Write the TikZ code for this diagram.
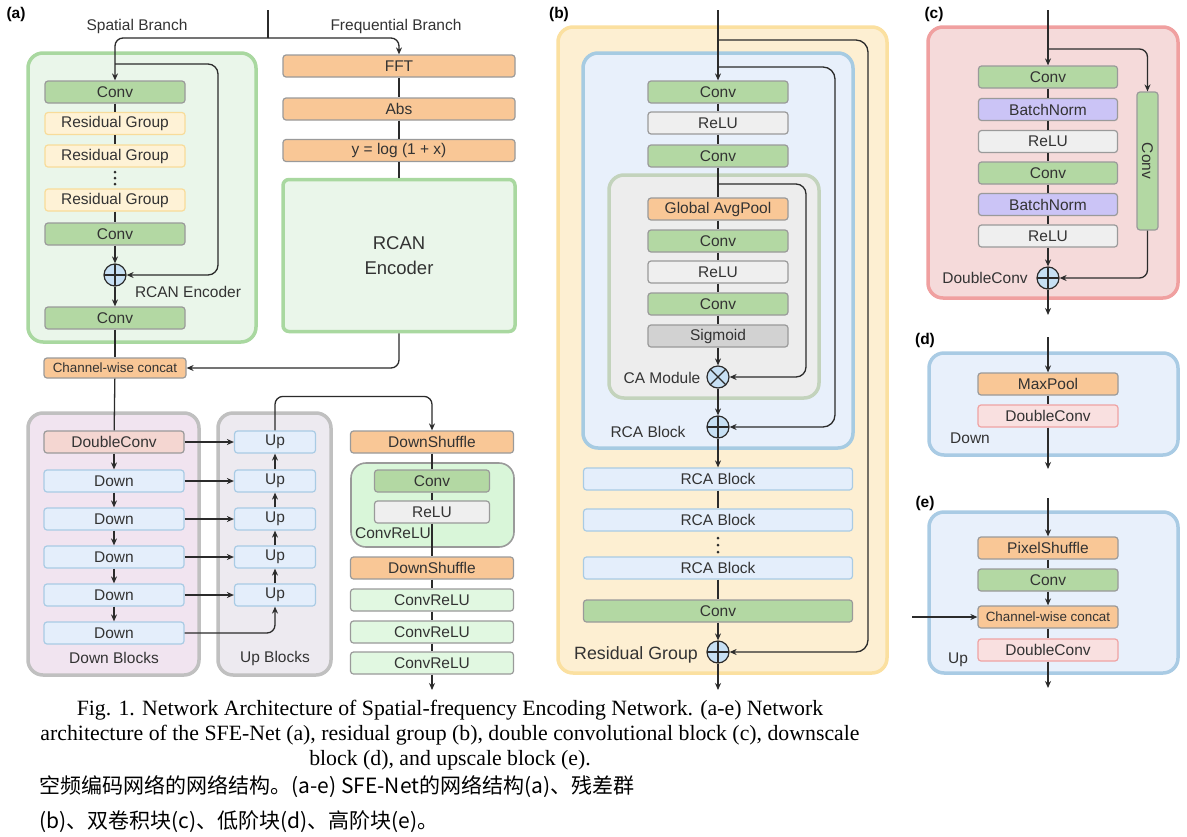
\documentclass[tikz,border=0pt]{standalone}
\usepackage{fontspec}
\setmainfont{Liberation Sans}
\newfontfamily\capfont{Liberation Serif}
\newfontfamily\cjk{Noto Sans CJK SC}
\usetikzlibrary{arrows.meta,calc}

\definecolor{txt}{HTML}{333333}
\definecolor{linec}{HTML}{2B2B2B}
\definecolor{boxgray}{HTML}{9A9A9A}
\definecolor{convgreen}{HTML}{B3D8A3}
\definecolor{rgfill}{HTML}{FEF2D6}
\definecolor{rgedge}{HTML}{F8DC9A}
\definecolor{encfill}{HTML}{EAF6EA}
\definecolor{encedge}{HTML}{A9D8A0}
\definecolor{poolorange}{HTML}{F9C796}
\definecolor{relugray}{HTML}{EFEFEF}
\definecolor{siggray}{HTML}{D2D2D2}
\definecolor{bnpurple}{HTML}{CBC4F6}
\definecolor{lblue}{HTML}{E4EEFB}
\definecolor{lblueedge}{HTML}{A9CBE4}
\definecolor{dcpink}{HTML}{F4D6D1}
\definecolor{downfill}{HTML}{F1E4F0}
\definecolor{upfill}{HTML}{EDEAF0}
\definecolor{grpedge}{HTML}{C0C0C0}
\definecolor{crgroup}{HTML}{D9F6D9}
\definecolor{crfill}{HTML}{E1F8E1}
\definecolor{resfill}{HTML}{FDEFD2}
\definecolor{resedge}{HTML}{FBE0A0}
\definecolor{rcafill}{HTML}{E8F0FB}
\definecolor{rcaedge}{HTML}{A6CBE2}
\definecolor{cafill}{HTML}{EDEDED}
\definecolor{caedge}{HTML}{C3D3BC}
\definecolor{dcfill}{HTML}{F5DADA}
\definecolor{dcedge}{HTML}{F0A0A0}
\definecolor{pinkfill}{HTML}{F9E0E0}
\definecolor{pinkedge}{HTML}{EFA3A3}
\definecolor{sumblue}{HTML}{C7E0F4}

\newcommand\lbl{\fontsize{15.5}{18}\selectfont}

\tikzset{
  blk/.style={draw=boxgray, rounded corners=3pt, line width=1.2pt, minimum height=22pt,
    minimum width=140pt, inner sep=0pt, text=txt, font=\lbl},
  conv/.style={blk, fill=convgreen},
  rgbox/.style={blk, fill=rgfill, draw=rgedge},
  pool/.style={blk, fill=poolorange},
  relu/.style={blk, fill=relugray},
  bnorm/.style={blk, fill=bnpurple},
  bluebox/.style={blk, fill=lblue, draw=lblueedge},
  pinkbox/.style={blk, fill=pinkfill, draw=pinkedge},
  crbox/.style={blk, fill=crfill, minimum width=163pt},
  wrap/.style={line width=3.5pt, rounded corners=15pt},
  sumbase/.style={circle, draw=linec, fill=sumblue, line width=1.2pt, minimum size=22pt, inner sep=0pt},
  plusop/.style={sumbase, path picture={
    \draw[linec, line width=1.2pt] (path picture bounding box.north) -- (path picture bounding box.south)
      (path picture bounding box.west) -- (path picture bounding box.east);}},
  timesop/.style={sumbase, path picture={
    \draw[linec, line width=1.2pt] (path picture bounding box.center) ++(45:12pt) -- ++(225:24pt)
      (path picture bounding box.center) ++(135:12pt) -- ++(315:24pt);}},
  flow/.style={draw=linec, line width=1.3pt},
  arr/.style={flow, -{Stealth[length=7pt,width=6pt]}},
  tag/.style={font=\lbl\bfseries, text=black},
}

\begin{document}
\begin{tikzpicture}[x=1pt, y=-1pt, text=txt, font=\lbl]
\fill[white] (0,0) rectangle (1187,836);
\useasboundingbox (0,0) rectangle (1187,836);

% (a) SFE-Net
\node[tag] (lab_a) at (16,14) {(a)};
\node (t_sp) at (137,26) {Spatial Branch};
\node (t_fr) at (396,26) {Frequential Branch};
\draw[wrap, draw=encedge, fill=encfill] (28,53) rectangle (256,342);

\node[conv] (sconv1) at (115,92) {Conv};
\node[rgbox] (srg1) at (115,123.5) {Residual Group};
\node[rgbox] (srg2) at (115,156) {Residual Group};
\foreach \d in {0,6,12} \fill[linec] (115,172+\d) circle (1.5pt);
\node[rgbox] (srg3) at (115,200) {Residual Group};
\node[conv] (sconv2) at (115,234) {Conv};
\node[plusop] (plus_a) at (115,275) {};
\node (t_enc) at (188,292) {RCAN Encoder};
\node[conv] (sconv3) at (115,318) {Conv};
\node[pool, minimum width=142pt, minimum height=20pt, font=\fontsize{13.4}{16}\selectfont] (concat_a) at (115,368) {Channel-wise concat};

\node[pool, minimum width=232pt] (fft) at (399,66) {FFT};
\node[pool, minimum width=232pt] (abs) at (399,109) {Abs};
\node[pool, minimum width=232pt] (logx) at (399,150.5) {y = log (1 + x)};
\node[draw=encedge, fill=encfill, line width=3.5pt, rounded corners=6pt, minimum width=232pt,
  minimum height=152pt, align=center, font=\fontsize{18.5}{25}\selectfont] (rcan) at (399,255.5) {RCAN\\Encoder};

\coordinate (in_a) at (268,10);
\coordinate (split_a) at (268,38);
\coordinate (sk_a) at (115,64);
\draw[flow] (in_a) -- (split_a);
\draw[arr, rounded corners=8pt] (split_a) -| (sconv1.north);
\draw[arr, rounded corners=8pt] (split_a) -| (fft.north);
\draw[arr, rounded corners=10pt] (sk_a) -- (218,64) -- (218,275) -- (plus_a.east);
\draw[flow] (sconv1) -- (srg1) -- (srg2);
\draw[flow] (srg3) -- (sconv2);
\draw[arr] (sconv2) -- (plus_a);
\draw[arr] (plus_a) -- (sconv3);
\draw[flow] (sconv3) -- (concat_a);
\draw[flow] (fft) -- (abs) -- (logx) -- (rcan);
\draw[arr, rounded corners=8pt] (rcan.south) |- (concat_a.east);

% down / up blocks
\draw[wrap, draw=grpedge, fill=downfill] (28,413) rectangle (199,675);
\draw[wrap, draw=grpedge, fill=upfill] (218,413) rectangle (331,675);
\node[blk, fill=dcpink] (dblc) at (114,442) {DoubleConv};
\foreach \i/\y in {1/481,2/519,3/557,4/595,5/633}
  \node[bluebox] (down\i) at (114,\y) {Down};
\foreach \i/\y in {1/442,2/481,3/519,4/557,5/595}
  \node[bluebox, minimum width=81pt] (up\i) at (275,\y) {Up};
\node (t_down) at (114,658) {Down Blocks};
\node (t_up) at (275,658) {Up Blocks};

\draw[flow] (concat_a) -- (dblc);
\draw[arr] (dblc) -- (down1);
\foreach \i/\j in {1/2,2/3,3/4,4/5} \draw[arr] (down\i) -- (down\j);
\draw[arr] (dblc.east) -- (up1.west);
\foreach \i/\j in {1/2,2/3,3/4,4/5} \draw[arr] (down\i.east) -- (up\j.west);
\foreach \i/\j in {5/4,4/3,3/2,2/1} \draw[arr] (up\i) -- (up\j);
\draw[arr, rounded corners=8pt] (down5.east) -| (up5.south);

% downshuffle column
\node[pool, minimum width=163pt] (ds1) at (432,442) {DownShuffle};
\draw[line width=1.6pt, draw=boxgray, fill=crgroup, rounded corners=15pt] (351,463) rectangle (514,547);
\node[conv, minimum width=115pt] (crconv) at (432,481) {Conv};
\node[relu, minimum width=115pt] (crrelu) at (432,512) {ReLU};
\node (t_cr) at (393,533) {ConvReLU};
\node[pool, minimum width=163pt] (ds2) at (432,568) {DownShuffle};
\node[crbox] (cr1) at (432,600) {ConvReLU};
\node[crbox] (cr2) at (432,632) {ConvReLU};
\node[crbox] (cr3) at (432,663) {ConvReLU};
\coordinate (out_a) at (432,690);

\draw[arr, rounded corners=8pt] (up1.north) -- ++(0,-34) -| (ds1.north);
\draw[flow] (ds1) -- (crconv) -- (crrelu) -- (ds2) -- (cr1) -- (cr2) -- (cr3);
\draw[arr] (cr3) -- (out_a);

% (b) residual group
\node[tag] (lab_b) at (559,14) {(b)};
\draw[wrap, draw=resedge, fill=resfill] (558,27) rectangle (887,673);
\draw[wrap, draw=rcaedge, fill=rcafill] (583,53) rectangle (853,448);
\draw[wrap, draw=caedge, fill=cafill] (609,175) rectangle (819,398);

\node[conv] (bconv1) at (718,92) {Conv};
\node[relu] (brelu1) at (718,123) {ReLU};
\node[conv] (bconv2) at (718,156) {Conv};
\node[pool] (gap) at (718,209) {Global AvgPool};
\node[conv] (caconv1) at (718,241) {Conv};
\node[relu] (carelu) at (718,272) {ReLU};
\node[conv] (caconv2) at (718,304) {Conv};
\node[blk, fill=siggray] (sig) at (718,336) {Sigmoid};
\node[timesop] (times_b) at (718,377) {};
\node (t_ca) at (662,378) {CA Module};
\node[plusop] (plus_b1) at (718,427) {};
\node (t_rcab) at (648,432) {RCA Block};
\node[bluebox, minimum width=269pt] (rca1) at (718,479) {RCA Block};
\node[bluebox, minimum width=269pt] (rca2) at (718,520) {RCA Block};
\foreach \d in {0,7,14} \fill[linec] (718,538+\d) circle (1.5pt);
\node[bluebox, minimum width=269pt] (rca3) at (718,568) {RCA Block};
\node[conv, minimum width=269pt] (bconv3) at (718,611) {Conv};
\node[plusop] (plus_b2) at (718,652) {};
\node[font=\fontsize{17.8}{20}\selectfont] (t_res) at (636,655) {Residual Group};

\coordinate (in_b) at (718,10);
\coordinate (sk_b1) at (718,40);
\coordinate (sk_b2) at (718,67);
\coordinate (sk_b3) at (718,184);
\coordinate (out_b) at (718,690);
\draw[arr] (in_b) -- (bconv1);
\draw[arr, rounded corners=12pt] (sk_b1) -- (868,40) -- (868,652) -- (plus_b2.east);
\draw[arr, rounded corners=12pt] (sk_b2) -- (835,67) -- (835,427) -- (plus_b1.east);
\draw[arr, rounded corners=10pt] (sk_b3) -- (806,184) -- (806,377) -- (times_b.east);
\draw[flow] (bconv1) -- (brelu1) -- (bconv2) -- (gap) -- (caconv1) -- (carelu) -- (caconv2) -- (sig);
\draw[arr] (sig) -- (times_b);
\draw[arr] (times_b) -- (plus_b1);
\draw[arr] (plus_b1) -- (rca1);
\draw[flow] (rca1) -- (rca2);
\draw[flow] (rca3) -- (bconv3);
\draw[arr] (bconv3) -- (plus_b2);
\draw[arr] (plus_b2) -- (out_b);

% (c) double conv
\node[tag] (lab_c) at (934,14) {(c)};
\draw[wrap, draw=dcedge, fill=dcfill] (928,27) rectangle (1178,298);
\node[conv, minimum width=139pt] (cconv1) at (1048,77) {Conv};
\node[bnorm, minimum width=139pt] (cbn1) at (1048,109.5) {BatchNorm};
\node[relu, minimum width=139pt] (crelu1) at (1048,141.5) {ReLU};
\node[conv, minimum width=139pt] (cconv2) at (1048,173) {Conv};
\node[bnorm, minimum width=139pt] (cbn2) at (1048,204.5) {BatchNorm};
\node[relu, minimum width=139pt] (crelu2) at (1048,236) {ReLU};
\node[conv, rotate=-90, minimum width=138pt, minimum height=21pt] (csconv) at (1147.5,161) {Conv};
\node[plusop] (plus_c) at (1048,278) {};
\node (t_dc) at (985,278) {DoubleConv};

\coordinate (in_c) at (1048,10);
\coordinate (br_c) at (1048,49);
\coordinate (out_c) at (1048,315);
\draw[arr] (in_c) -- (cconv1);
\draw[arr, rounded corners=8pt] (br_c) -| (csconv.west);
\draw[arr, rounded corners=8pt] (csconv.east) |- (plus_c.east);
\draw[flow] (cconv1) -- (cbn1) -- (crelu1) -- (cconv2) -- (cbn2) -- (crelu2);
\draw[arr] (crelu2) -- (plus_c);
\draw[arr] (plus_c) -- (out_c);

% (d) down
\node[tag] (lab_d) at (925,340) {(d)};
\draw[wrap, draw=lblueedge, fill=rcafill] (929,353) rectangle (1178,455);
\node[pool] (maxp) at (1048,384) {MaxPool};
\node[pinkbox] (ddc) at (1048,416) {DoubleConv};
\node (t_dn) at (970,438) {Down};
\coordinate (in_d) at (1048,337);
\coordinate (out_d) at (1048,469);
\draw[arr] (in_d) -- (maxp);
\draw[flow] (maxp) -- (ddc);
\draw[arr] (ddc) -- (out_d);

% (e) up
\node[tag] (lab_e) at (925,503) {(e)};
\draw[wrap, draw=lblueedge, fill=rcafill] (929,512) rectangle (1178,673);
\node[pool] (pix) at (1048,548) {PixelShuffle};
\node[conv] (econv) at (1048,580) {Conv};
\node[pool, font=\fontsize{13.4}{16}\selectfont] (econcat) at (1048,617) {Channel-wise concat};
\node[pinkbox] (edc) at (1048,650) {DoubleConv};
\node (t_upe) at (958,660) {Up};
\coordinate (in_e) at (1048,498);
\coordinate (skip_e) at (912,617);
\coordinate (out_e) at (1048,688);
\draw[arr] (in_e) -- (pix);
\draw[flow] (pix) -- (econv);
\draw[arr] (econv) -- (econcat);
\draw[arr] (skip_e) -- (econcat.west);
\draw[flow] (econcat) -- (edc);
\draw[arr] (edc) -- (out_e);

% caption
\node[font=\capfont\fontsize{21.8}{25}\selectfont, text=black, align=center] (cap_en) at (450,735)
  {Fig. 1. Network Architecture of Spatial-frequency Encoding Network. (a-e) Network\\
   architecture of the SFE-Net (a), residual group (b), double convolutional block (c), downscale\\
   block (d), and upscale block (e).};
\node[font=\cjk\fontsize{21}{24}\selectfont, text=black, anchor=west] (cap_zh1) at (36,787)
  {空频编码网络的网络结构。(a-e) SFE-Net的网络结构(a)、残差群};
\node[font=\cjk\fontsize{21}{24}\selectfont, text=black, anchor=west] (cap_zh2) at (36,822)
  {(b)、双卷积块(c)、低阶块(d)、高阶块(e)。};
\end{tikzpicture}
\end{document}
